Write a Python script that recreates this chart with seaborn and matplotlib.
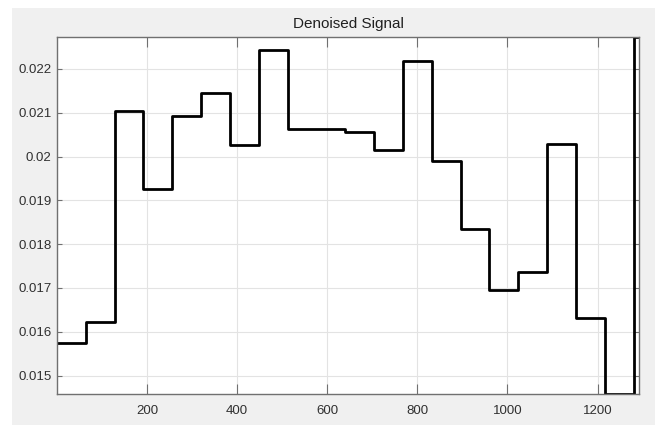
import seaborn as sns, numpy as np, pandas as pd, matplotlib.pyplot as plt, matplotlib.patches as patches
import warnings

warnings.filterwarnings('ignore')

# inicio de cada degrau (amostra) e valor do sinal filtrado
seg_start = [0, 64, 128, 192, 256, 320, 384, 448, 512, 576, 640,
             704, 768, 832, 896, 960, 1024, 1088, 1152, 1216, 1280]
seg_value = [0.01575, 0.01622, 0.02105, 0.01927, 0.02093, 0.02145, 0.02027,
             0.02244, 0.02064, 0.02062, 0.02056, 0.02016, 0.02218, 0.01991,
             0.01835, 0.01695, 0.01737, 0.02028, 0.01631, 0.01458, 0.02274]
sig_end = 1290
x_ticks = [200, 400, 600, 800, 1000, 1200]
y_ticks = [0.015, 0.016, 0.017, 0.018, 0.019, 0.02, 0.021, 0.022]
y_labels = ['0.015', '0.016', '0.017', '0.018', '0.019', '0.02', '0.021', '0.022']

df = pd.DataFrame({'amostra': seg_start + [sig_end], 'sinal': seg_value + [seg_value[-1]]})

sns.set_style('white')
plt.rcParams['font.family'] = ['Liberation Sans', 'DejaVu Sans']

fig = plt.figure(figsize=(6.55, 4.25), dpi=100, facecolor='white')
# fundo cinza estilo matlab (com borda branca em cima e na esquerda)
fig.patches.append(patches.Rectangle((12 / 655, 0), 1 - 12 / 655, 1 - 8 / 425,
                                     transform=fig.transFigure, facecolor='#f0f0f0',
                                     edgecolor='none', zorder=-10))
ax = fig.add_axes([57 / 655, 31 / 425, (639 - 57) / 655, (394 - 36.7) / 425])
ax.set_zorder(5)
ax.set_facecolor('white')

sns.lineplot(data=df, x='amostra', y='sinal', drawstyle='steps-post', color='black',
             linewidth=2.0, ax=ax, estimator=None)

ax.set_xlim(0, 1292)
ax.set_ylim(0.01458, 0.022737)
ax.set_xticks(x_ticks)
ax.set_xticklabels([str(t) for t in x_ticks])
ax.set_yticks(y_ticks)
ax.set_yticklabels(y_labels)
ax.set_xlabel('')
ax.set_ylabel('')
ax.grid(True, color='#e3e3e3', linewidth=0.8)
ax.set_axisbelow(True)
for s in ax.spines.values():
    s.set_color('#707070')
    s.set_linewidth(1.0)
ax.tick_params(axis='x', direction='in', length=7, width=0.8, color='#707070',
               labelsize=9.5, labelcolor='#303030', pad=8, top=True, bottom=True)
ax.tick_params(axis='y', direction='in', length=3.6, width=0.8, color='#707070',
               labelsize=9.5, labelcolor='#303030', pad=4, left=True, right=True)
ax.set_title('Denoised Signal', fontsize=11, color='#202020', pad=6)

fig.savefig('out.png', dpi=100, facecolor=fig.get_facecolor())
